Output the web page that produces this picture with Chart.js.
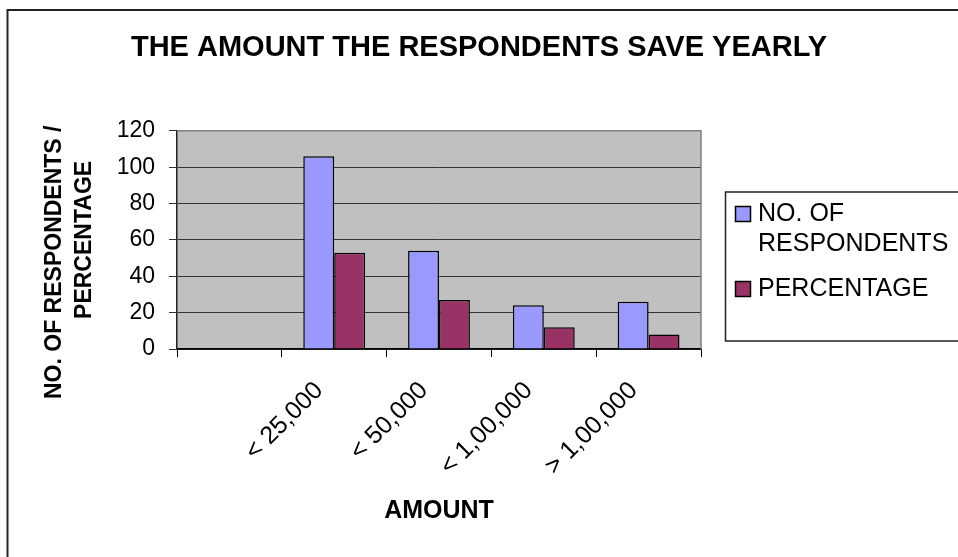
<!DOCTYPE html>
<html>
<head>
<meta charset="utf-8">
<title>The amount the respondents save yearly</title>
<script src="https://cdn.jsdelivr.net/npm/chart.js@4/dist/chart.umd.min.js"></script>
<style>
  html, body { margin: 0; padding: 0; background: #fff; }
  #wrap { width: 958px; height: 557px; position: relative; }
</style>
</head>
<body>
<div id="wrap"><canvas id="savingsChart" width="958" height="557"></canvas></div>
<script>
const categories = ['', '< 25,000', '< 50,000', '< 1,00,000', '> 1,00,000'];
const respondents = [null, 106, 54, 24, 26];
const percentage = [null, 53, 27, 12, 8];
const seriesNames = ['NO. OF RESPONDENTS', 'PERCENTAGE'];
const seriesColors = ['#9999FF', '#993366'];
const yMin = 0;
const yMax = 120;
const yStep = 20;

const FONT = "'Liberation Sans', Arial, Helvetica, sans-serif";

// grey plot area + outer frame, like the old excel chart
const plotBackground = {
  id: 'plotBackground',
  beforeDraw(chart) {
    const { ctx, chartArea } = chart;
    ctx.save();
    ctx.fillStyle = '#fff';
    ctx.fillRect(0, 0, chart.width, chart.height);
    ctx.strokeStyle = '#222';
    ctx.lineWidth = 2;
    ctx.beginPath();
    ctx.moveTo(7.5, chart.height + 2);
    ctx.lineTo(7.5, 10);
    ctx.lineTo(chart.width + 2, 10);
    ctx.stroke();
    ctx.fillStyle = '#C0C0C0';
    ctx.fillRect(chartArea.left, chartArea.top, chartArea.width, chartArea.height);
    ctx.restore();
  },
  beforeDatasetsDraw(chart) {
    const { ctx, chartArea } = chart;
    ctx.save();
    ctx.strokeStyle = '#808080';
    ctx.lineWidth = 1.5;
    ctx.beginPath();
    ctx.moveTo(chartArea.left, chartArea.top);
    ctx.lineTo(chartArea.right, chartArea.top);
    ctx.lineTo(chartArea.right, chartArea.bottom);
    ctx.stroke();
    ctx.restore();
  }
};

// boxed legend on the right, long names wrap onto two lines
const boxLegend = {
  id: 'boxLegend',
  afterDraw(chart) {
    const { ctx } = chart;
    const boxLeft = 725.5, boxTop = 192, boxBottom = 341;
    const textX = 758;
    const maxW = chart.width - textX - 2;
    ctx.save();
    ctx.strokeStyle = '#222';
    ctx.lineWidth = 1.5;
    ctx.beginPath();
    ctx.moveTo(chart.width + 2, boxTop);
    ctx.lineTo(boxLeft, boxTop);
    ctx.lineTo(boxLeft, boxBottom);
    ctx.lineTo(chart.width + 2, boxBottom);
    ctx.stroke();

    ctx.font = '25px ' + FONT;
    ctx.textBaseline = 'middle';
    ctx.fillStyle = '#000';
    let y = 214;
    chart.data.datasets.forEach((ds) => {
      const lines = [];
      let cur = '';
      ds.label.split(' ').forEach((w) => {
        const test = cur ? cur + ' ' + w : w;
        if (cur && ctx.measureText(test).width > maxW) {
          lines.push(cur);
          cur = w;
        } else {
          cur = test;
        }
      });
      lines.push(cur);

      ctx.fillStyle = ds.backgroundColor;
      ctx.fillRect(735.5, y - 7.5, 15, 15);
      ctx.strokeStyle = '#000';
      ctx.lineWidth = 1.5;
      ctx.strokeRect(735.5, y - 7.5, 15, 15);
      ctx.fillStyle = '#000';
      lines.forEach((line, i) => {
        ctx.fillText(line, textX, y + i * 30);
      });
      y += (lines.length - 1) * 30 + 45;
    });
    ctx.restore();
  }
};

const ctx = document.getElementById('savingsChart');
new Chart(ctx, {
  type: 'bar',
  data: {
    labels: categories,
    datasets: [{
      label: seriesNames[0],
      data: respondents,
      backgroundColor: seriesColors[0],
      borderColor: '#000',
      borderWidth: 1.5,
      categoryPercentage: 0.59,
      barPercentage: 1.0
    }, {
      label: seriesNames[1],
      data: percentage,
      backgroundColor: seriesColors[1],
      borderColor: '#000',
      borderWidth: 1.5,
      categoryPercentage: 0.59,
      barPercentage: 1.0
    }]
  },
  options: {
    responsive: false,
    animation: false,
    layout: {
      padding: { left: 0, right: 0, top: 0, bottom: 0 }
    },
    plugins: {
      legend: { display: false },
      tooltip: { enabled: false },
      title: {
        display: true,
        text: 'THE AMOUNT THE RESPONDENTS SAVE YEARLY',
        color: '#000',
        font: { family: FONT, size: 29, weight: 'bold', lineHeight: 1.2 },
        padding: { top: 31, bottom: 65 }
      }
    },
    scales: {
      x: {
        grid: {
          offset: true,
          drawOnChartArea: false,
          drawTicks: true,
          tickLength: 8,
          color: '#000'
        },
        border: { display: true, color: '#000', width: 1.5 },
        ticks: {
          color: '#000',
          font: { family: FONT, size: 25 },
          minRotation: 45,
          maxRotation: 45,
          autoSkip: false,
          padding: 19,
          labelOffset: -15
        },
        title: {
          display: true,
          text: 'AMOUNT',
          color: '#000',
          font: { family: FONT, size: 25, weight: 'bold', lineHeight: 1.2 },
          padding: { top: 0, bottom: 31 }
        },
        afterFit(scale) {
          scale.height = 208;
        }
      },
      y: {
        min: yMin,
        max: yMax,
        grid: {
          color: '#333',
          lineWidth: 1,
          tickLength: 8
        },
        border: { display: true, color: '#222', width: 1.5 },
        ticks: {
          stepSize: yStep,
          color: '#000',
          font: { family: FONT, size: 23 },
          padding: 14
        },
        title: {
          display: true,
          text: ['NO. OF RESPONDENTS /       ', 'PERCENTAGE'],
          color: '#000',
          font: { family: FONT, size: 23, weight: 'bold', lineHeight: 1.3 },
          padding: { top: 40, bottom: 0 }
        },
        afterFit(scale) {
          scale.width = 177;
        }
      },
      // empty right axis only reserves room for the boxed legend
      legendSpace: {
        type: 'linear',
        position: 'right',
        display: true,
        grid: { display: false },
        border: { display: false },
        ticks: { display: false },
        afterFit(scale) {
          scale.width = 257;
        }
      }
    }
  },
  plugins: [plotBackground, boxLegend]
});
</script>
</body>
</html>
